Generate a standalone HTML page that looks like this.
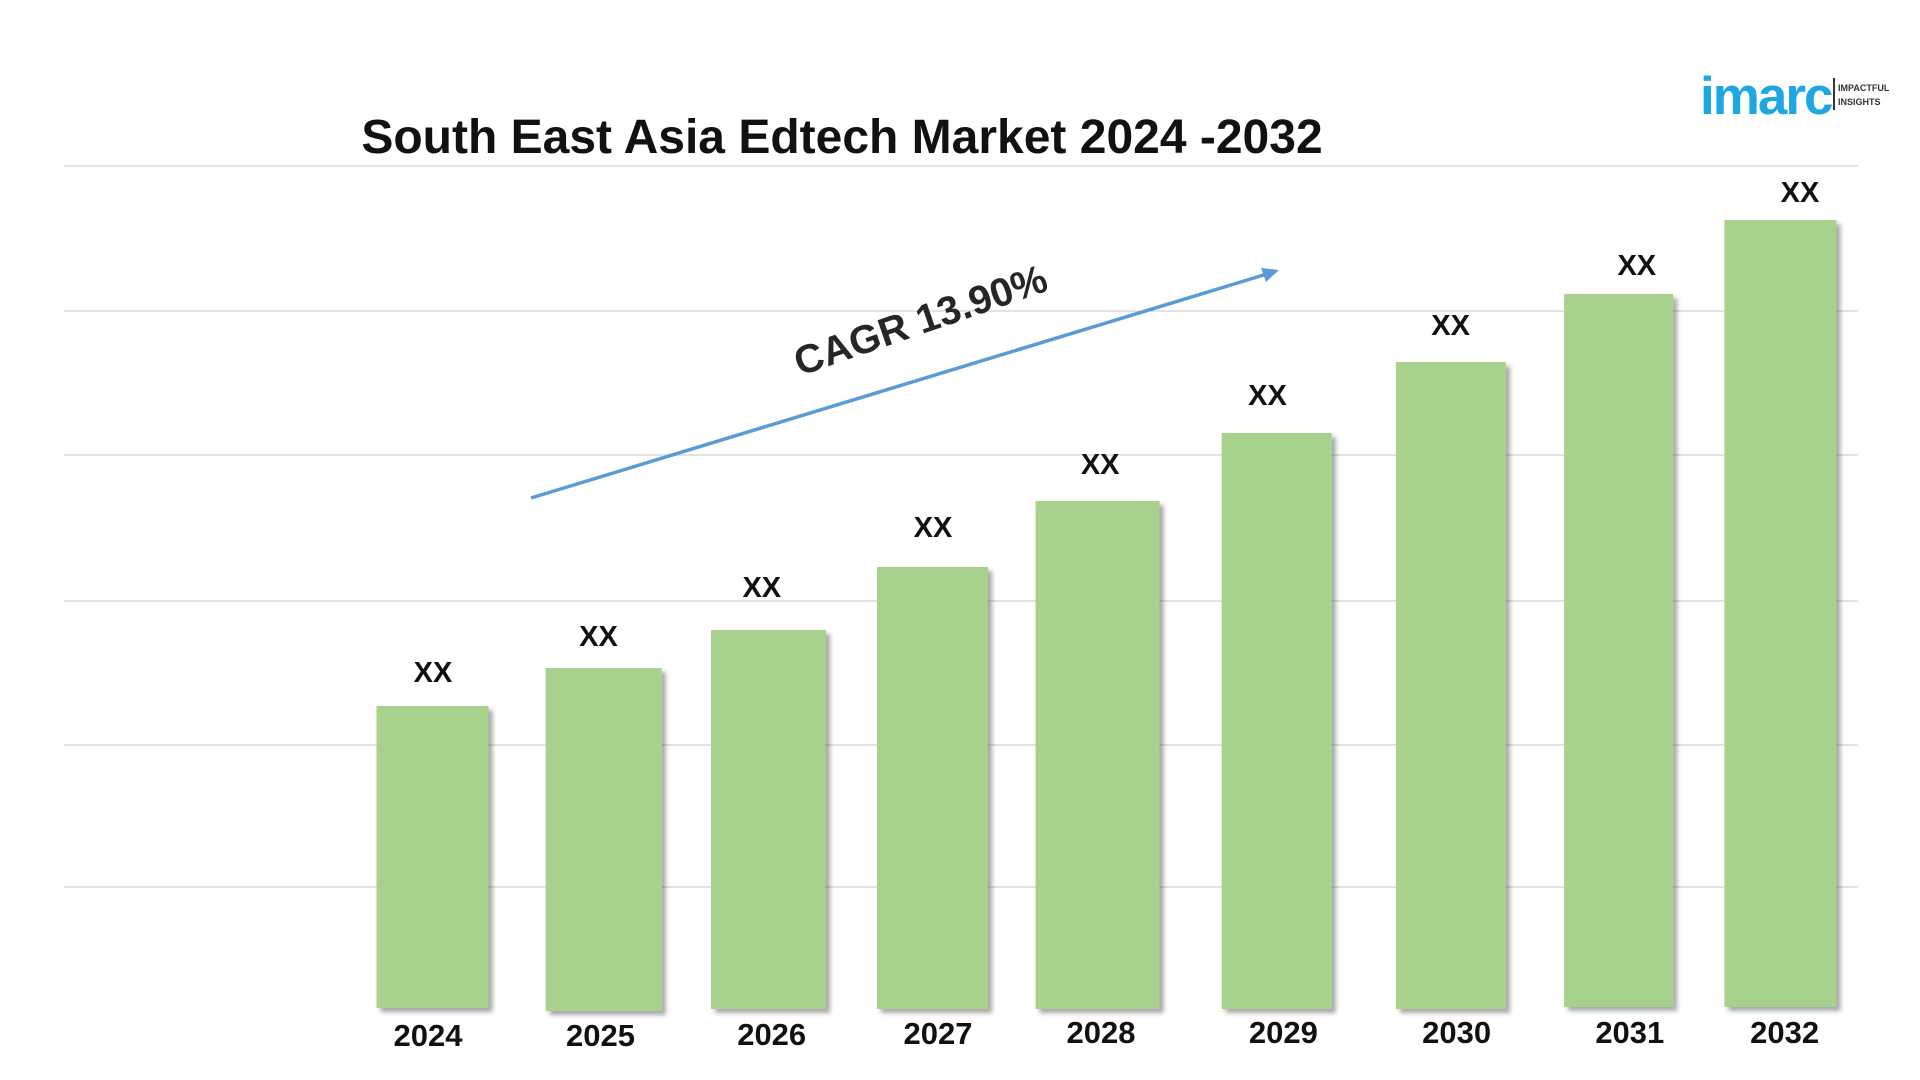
<!DOCTYPE html>
<html><head><meta charset="utf-8"><style>
html,body{margin:0;padding:0;background:#fff;width:1920px;height:1080px;overflow:hidden}
svg{display:block}
text{font-family:"Liberation Sans",sans-serif;font-weight:bold}
</style></head><body>
<svg width="1920" height="1080" viewBox="0 0 1920 1080" xmlns="http://www.w3.org/2000/svg">
<defs><filter id="sh" x="-10%" y="-10%" width="130%" height="130%"><feDropShadow dx="4" dy="4" stdDeviation="2.5" flood-color="#000" flood-opacity="0.35"/></filter></defs>
<g stroke="#d9d9d9" stroke-width="1.5">
<line x1="64" y1="166" x2="1858" y2="166"/>
<line x1="64" y1="311" x2="1858" y2="311"/>
<line x1="64" y1="455" x2="1858" y2="455"/>
<line x1="64" y1="601" x2="1858" y2="601"/>
<line x1="64" y1="745" x2="1858" y2="745"/>
<line x1="64" y1="887" x2="1858" y2="887"/>
</g>
<text x="842" y="153" font-size="48" text-anchor="middle" fill="#111">South East Asia Edtech Market 2024 -2032</text>
<text x="1700" y="114" font-size="53" fill="#1ea7e1" style="letter-spacing:-2px">imarc</text>
<rect x="1833" y="78" width="2" height="32" fill="#333"/>
<text x="1838" y="91" font-size="9" fill="#333">IMPACTFUL</text>
<text x="1838" y="105" font-size="9" fill="#333">INSIGHTS</text>
<g fill="#a9d18e" filter="url(#sh)">
<rect x="376.5" y="706" width="112" height="302"/>
<rect x="545.7" y="668" width="116" height="343"/>
<rect x="711" y="630" width="115" height="379"/>
<rect x="877" y="567" width="111" height="442"/>
<rect x="1035.5" y="501" width="124" height="508"/>
<rect x="1221.7" y="433" width="110" height="576"/>
<rect x="1395.9" y="362" width="110" height="647"/>
<rect x="1564.1" y="294" width="109" height="713"/>
<rect x="1724.4" y="220" width="112" height="787"/>
</g>
<g font-size="29" text-anchor="middle" fill="#111">
<text x="433" y="682">XX</text>
<text x="598.5" y="646">XX</text>
<text x="761.8" y="597">XX</text>
<text x="933" y="537">XX</text>
<text x="1100.2" y="474">XX</text>
<text x="1267.5" y="405">XX</text>
<text x="1450.6" y="335">XX</text>
<text x="1636.8" y="275">XX</text>
<text x="1800" y="202">XX</text>
</g>
<g font-size="31" text-anchor="middle" fill="#111">
<text x="428" y="1046">2024</text>
<text x="600.5" y="1046">2025</text>
<text x="771.7" y="1045">2026</text>
<text x="938" y="1044">2027</text>
<text x="1101" y="1043">2028</text>
<text x="1283.4" y="1043">2029</text>
<text x="1456.6" y="1043">2030</text>
<text x="1629.8" y="1043">2031</text>
<text x="1784.6" y="1043">2032</text>
</g>
<line x1="531" y1="498" x2="1267" y2="274" stroke="#5b9bd5" stroke-width="3.5"/>
<polygon points="1279,270 1261,268 1266,282" fill="#5b9bd5"/>
<text x="0" y="0" font-size="40" fill="#262626" text-anchor="middle" transform="translate(925,333) rotate(-19)">CAGR 13.90%</text>
</svg>
</body></html>
